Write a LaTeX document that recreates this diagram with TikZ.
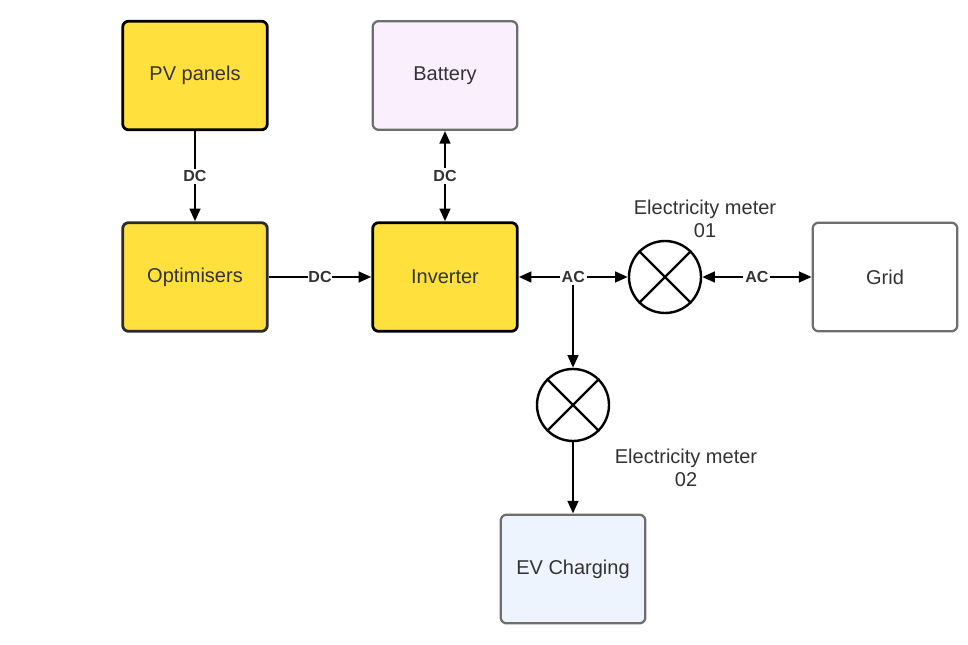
\documentclass[tikz,border=0pt]{standalone}
\usepackage{fontspec}
\setmainfont{Liberation Sans}
\usetikzlibrary{arrows.meta}
\definecolor{pvyellow}{HTML}{FFE03D}
\definecolor{batfill}{HTML}{FAEFFD}
\definecolor{evfill}{HTML}{EDF4FD}
\definecolor{grayline}{HTML}{6E6E6E}
\definecolor{darkline}{HTML}{2B2B2B}
\definecolor{txt}{HTML}{333333}
\begin{document}
\begin{tikzpicture}[x=0.75pt,y=-0.75pt,
  box/.style={draw, rounded corners=4.5pt, minimum width=108.5pt, minimum height=81.5pt,
    line width=1.7pt, font=\fontsize{15}{18}\selectfont, text=txt, inner sep=0pt},
  yellowbox/.style={box, fill=pvyellow, draw=black, line width=2.1pt},
  meter/.style={circle, draw=black, line width=1.8pt, minimum size=54pt, inner sep=0pt},
  conn/.style={line width=1.8pt, draw=black, -{Triangle[length=9.5pt,width=8pt]}},
  biconn/.style={line width=1.8pt, draw=black, {Triangle[length=9.5pt,width=8pt]}-{Triangle[length=9.5pt,width=8pt]}},
  lbl/.style={fill=white, inner sep=1.5pt, font=\fontsize{12}{14}\selectfont\bfseries, text=txt},
  mlbl/.style={align=center, font=\fontsize{15}{17.5}\selectfont, text=txt, inner sep=0pt}
]
\useasboundingbox (0,0) rectangle (968,645);
\fill[white] (0,0) rectangle (968,645);

\node[yellowbox] (pv) at (195,75.5) {PV panels};
\node[box, fill=batfill, draw=grayline] (bat) at (445,75.5) {Battery};
\node[yellowbox, draw=darkline] (opt) at (195,277) {Optimisers};
\node[yellowbox] (inv) at (445,277) {Inverter};
\node[box, fill=white, draw=grayline] (grid) at (885,277) {Grid};
\node[box, fill=evfill, draw=grayline] (ev) at (573,569) {EV Charging};

\node[meter] (m1) at (665,277) {};
\node[meter] (m2) at (573,405) {};
\draw[line width=1.8pt] (m1.north west) -- (m1.south east) (m1.north east) -- (m1.south west);
\draw[line width=1.8pt] (m2.north west) -- (m2.south east) (m2.north east) -- (m2.south west);

\node[mlbl] (m1l) at (705,219) {Electricity meter\\01};
\node[mlbl] (m2l) at (686,468) {Electricity meter\\02};

\coordinate (j) at (573,277);

\draw[conn] (pv) -- node[lbl] {DC} (opt);
\draw[biconn] (bat) -- node[lbl] {DC} (inv);
\draw[conn] (opt) -- node[lbl, inner sep=0.5pt] {DC} (inv);
\draw[conn] (j) -- (m2);
\draw[biconn] (inv) -- node[lbl] {AC} (m1);
\draw[biconn] (m1) -- node[lbl] {AC} (grid);
\draw[conn] (m2) -- (ev);
\end{tikzpicture}
\end{document}
